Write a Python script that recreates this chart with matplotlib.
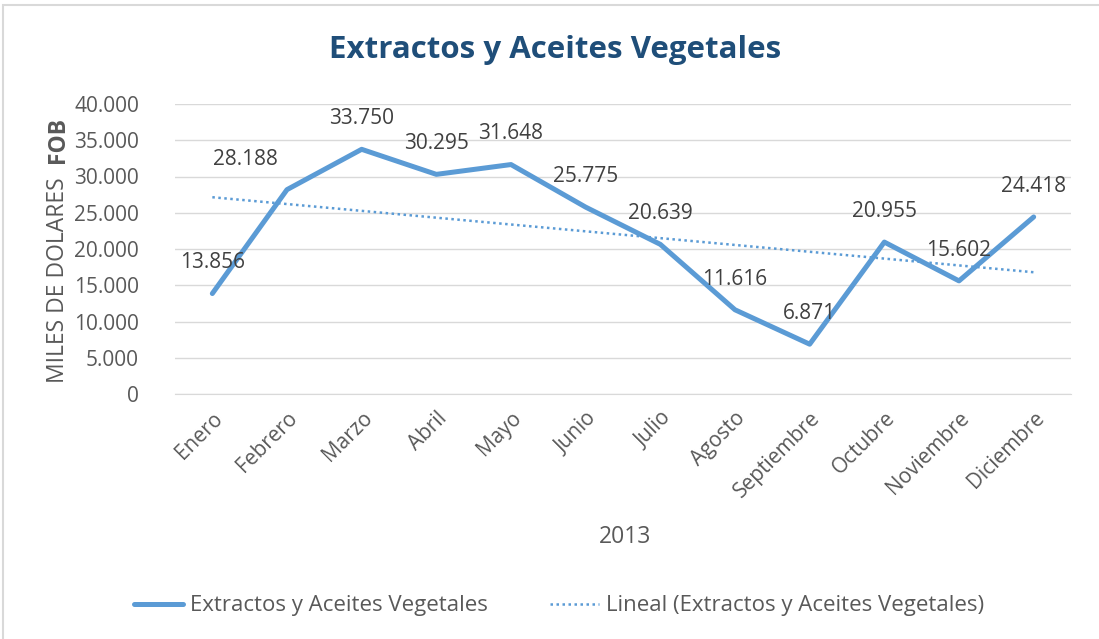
import numpy as np
import matplotlib
matplotlib.use("Agg")
import matplotlib.pyplot as plt
from matplotlib.patches import Rectangle

# monthly exports 2013 (miles de dolares FOB)
months = ["Enero", "Febrero", "Marzo", "Abril", "Mayo", "Junio", "Julio",
          "Agosto", "Septiembre", "Octubre", "Noviembre", "Diciembre"]
values = [13856, 28188, 33750, 30295, 31648, 25775, 20639,
          11616, 6871, 20955, 15602, 24418]

plt.rcParams['font.family'] = ['Open Sans', 'DejaVu Sans']
gray = "#595959"
blue = "#5B9BD5"

fig = plt.figure(figsize=(10.99, 6.39), dpi=100)
ax = fig.add_axes([175 / 1099, 1 - 394 / 639, 896 / 1099, 290 / 639])

x = np.arange(len(months))
ax.plot(x, values, color=blue, lw=3.6, solid_capstyle="round", solid_joinstyle="round",
        label="Extractos y Aceites Vegetales", zorder=3)

# linear trendline like excel
coef = np.polyfit(x, values, 1)
ax.plot(x, np.polyval(coef, x), color=blue, lw=1.8, linestyle=(0, (1, 1.4)),
        label="Lineal (Extractos y Aceites Vegetales)", zorder=2)

def fmt(v):
    return f"{v:,}".replace(",", ".")

for i, v in enumerate(values):
    dx = -30 if i == 1 else 0
    ax.annotate(fmt(v), (i, v), xytext=(dx, 22), textcoords="offset points",
                ha="center", va="center", fontsize=15, color="#404040")

ax.set_xlim(-0.5, len(months) - 0.5)
ax.set_ylim(0, 40000)
ax.set_yticks(np.arange(0, 40001, 5000))
ax.set_yticklabels([fmt(v) for v in range(0, 40001, 5000)])
ax.set_xticks(x)
ax.set_xticklabels(months, rotation=45, ha="right", rotation_mode="anchor")
ax.tick_params(axis="y", length=0, pad=26, labelsize=15, labelcolor=gray)
ax.tick_params(axis="x", length=0, pad=10, labelsize=15, labelcolor=gray)
ax.grid(axis="y", color="#D9D9D9", lw=1)
ax.set_axisbelow(True)
for s in ["top", "right", "left"]:
    ax.spines[s].set_visible(False)
ax.spines["bottom"].set_color("#D9D9D9")

fig.text(555 / 1099, 1 - 50 / 639, "Extractos y Aceites Vegetales", ha="center", va="center",
         fontsize=22.5, fontweight="bold", color="#1F4E79")
fig.text(625 / 1099, 1 - 537 / 639, "2013", ha="center", va="center", fontsize=16.5, color=gray)

# y label with bold FOB
fig.text(58 / 1099, 1 - 280 / 639, "MILES DE DOLARES", rotation=90, ha="center", va="center",
         fontsize=16.5, color=gray)
fig.text(58 / 1099, 1 - 140 / 639, "FOB", rotation=90, ha="center", va="center",
         fontsize=16.5, color=gray, fontweight="bold")

leg = fig.legend(loc="center", bbox_to_anchor=(559 / 1099, 1 - 606 / 639), ncol=2, frameon=False,
                 fontsize=16, handlelength=2.2, columnspacing=2.8, handletextpad=0.3)
for t in leg.get_texts():
    t.set_color(gray)

fig.patches.append(Rectangle((3 / 1099, -0.01), 1.02, 1 - 5 / 639 + 0.01, transform=fig.transFigure,
                             fill=False, edgecolor="#D9D9D9", lw=1.5))

fig.savefig("out.png", dpi=100)
